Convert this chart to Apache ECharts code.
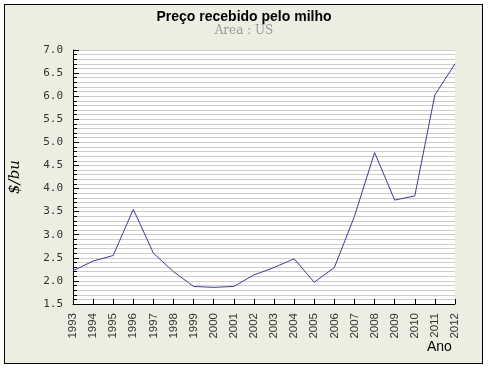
<!DOCTYPE html>
<html><head><meta charset="utf-8">
<script src="https://cdn.jsdelivr.net/npm/echarts@6/dist/echarts.min.js"></script>
<style>
html,body{margin:0;padding:0;background:#fff;}
#box{position:absolute;left:4px;top:4px;width:477px;height:358px;border:1px solid #000;background:#EEEDE2;}
#chart{position:absolute;left:0;top:0;width:488px;height:370px;}
</style></head>
<body>
<div id="box"></div>
<div id="chart"></div>
<script>
const years = ['1993','1994','1995','1996','1997','1998','1999','2000','2001','2002','2003','2004','2005','2006','2007','2008','2009','2010','2011','2012'];
const prices = [2.22,2.43,2.55,3.55,2.60,2.20,1.88,1.86,1.88,2.13,2.29,2.48,1.97,2.29,3.40,4.78,3.75,3.84,6.03,6.70];
const titleText = 'Preço recebido pelo milho';
const subText = 'Area : US';
const yName = '$/bu';
const xName = 'Ano';

const chart = echarts.init(document.getElementById('chart'), null, {renderer:'canvas'});
chart.setOption({
  backgroundColor: 'transparent',
  animation: false,
  title: {
    text: titleText, subtext: subText, left: 'center', top: 5, itemGap: 1,
    textStyle: {fontFamily: 'Liberation Sans', fontWeight: 'bold', fontSize: 14, color: '#000'},
    subtextStyle: {fontFamily: 'DejaVu Serif', fontSize: 12, color: '#999'}
  },
  grid: {left: 70, top: 50, right: 33, bottom: 66, show: true, backgroundColor: '#fff', borderWidth: 0},
  xAxis: {
    type: 'category', data: years, boundaryGap: false,
    axisLine: {lineStyle: {color: '#000', width: 1}},
    axisTick: {inside: true, length: 5, lineStyle: {color: '#000'}},
    axisLabel: {rotate: 90, fontFamily: 'Liberation Sans', fontSize: 11.5, color: '#333', margin: 9},
    splitLine: {show: false}
  },
  yAxis: {
    type: 'value', min: 1.5, max: 7.0, interval: 0.5,
    name: yName, nameLocation: 'middle', nameGap: 50, nameRotate: 90,
    nameTextStyle: {fontFamily: 'DejaVu Serif', fontStyle: 'italic', fontSize: 15, color: '#000'},
    axisLine: {show: true, lineStyle: {color: '#000', width: 1}},
    axisTick: {show: true, inside: true, length: 6, lineStyle: {color: '#000'}},
    minorTick: {show: true, splitNumber: 5, length: 4, lineStyle: {color: '#000'}},
    axisLabel: {fontFamily: 'DejaVu Sans Mono', fontSize: 11, color: '#333', margin: 10,
      formatter: v => v.toFixed(1)},
    splitLine: {show: true, lineStyle: {color: '#cdcdcd', width: 1}},
    minorSplitLine: {show: true, lineStyle: {color: '#cdcdcd', width: 1}}
  },
  graphic: [{
    type: 'text', left: 427, top: 340,
    style: {text: xName, fontFamily: 'Liberation Sans', fontSize: 14, fill: '#000'}
  }],
  series: [{
    type: 'line', data: prices, showSymbol: false, symbol: 'none',
    lineStyle: {color: '#3c3c96', width: 1}
  }]
});
</script>
</body></html>
